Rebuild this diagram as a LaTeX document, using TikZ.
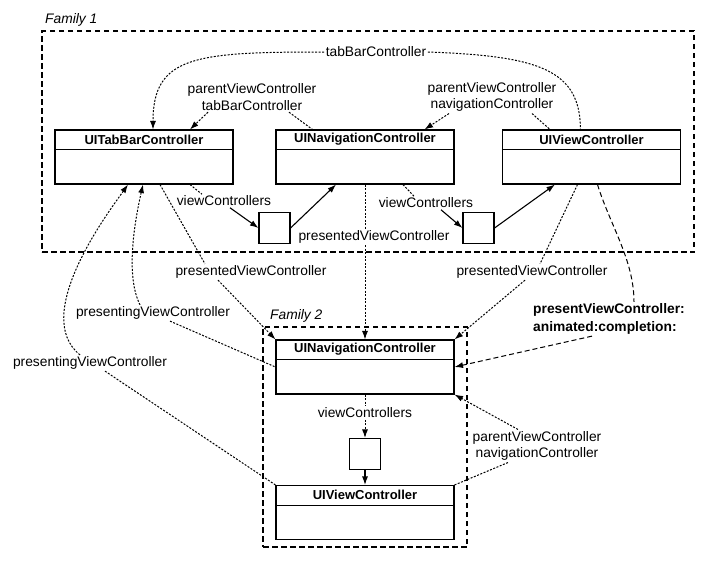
\documentclass[tikz,border=0pt]{standalone}
\usepackage{fontspec}
\setmainfont{Liberation Sans}
\usetikzlibrary{arrows.meta}

\tikzset{
  cbox/.style={draw, line width=1.1pt, minimum width=178pt, minimum height=54pt, inner sep=0pt},
  ctitle/.style={anchor=north, minimum height=20pt, inner sep=0pt, font=\fontsize{13}{15}\selectfont\bfseries},
  sq/.style={draw, line width=1.1pt, minimum size=31pt, inner sep=0pt},
  lbl/.style={inner sep=1.5pt, align=center, font=\fontsize{13.8}{16.8}\selectfont},
  famlbl/.style={inner sep=0pt, anchor=west, font=\fontsize{13.8}{16}\selectfont\itshape},
  fam/.style={draw, line width=1.2pt, dash pattern=on 5.5pt off 3.5pt},
  ptr/.style={line width=1pt, dash pattern=on 2pt off 1.5pt},
  lptr/.style={line width=1pt, dash pattern=on 5pt off 3pt},
  conn/.style={line width=1.1pt},
  tip/.style={-{Latex[length=8.5pt,width=6pt]}}
}

\begin{document}
\begin{tikzpicture}[x=1pt, y=-1pt]
  \useasboundingbox (0,0) rectangle (707,560);
  \node[fam, minimum width=652pt, minimum height=221pt] (fam1) at (368,141.5) {};
  \node[famlbl] (fam1L) at (45,20) {Family 1};
  \node[fam, minimum width=204pt, minimum height=220pt] (fam2) at (365,437) {};
  \node[famlbl] (fam2L) at (270,316) {Family 2};

  \node[cbox] (tab) at (144,157) {};
  \node[ctitle] (tabT) at (tab.north) {UITabBarController};
  \draw[conn] (tab.west |- tabT.south) -- (tab.east |- tabT.south);
  \node[cbox] (nav) at (365,157) {};
  \node[ctitle] (navT) at (nav.north) {UINavigationController};
  \draw[conn] (nav.west |- navT.south) -- (nav.east |- navT.south);
  \node[cbox] (vc) at (591.5,157) {};
  \node[ctitle] (vcT) at (vc.north) {UIViewController};
  \draw[conn] (vc.west |- vcT.south) -- (vc.east |- vcT.south);
  \node[cbox] (nav2) at (365,367) {};
  \node[ctitle] (nav2T) at (nav2.north) {UINavigationController};
  \draw[conn] (nav2.west |- nav2T.south) -- (nav2.east |- nav2T.south);
  \node[cbox] (vc2) at (365,512.5) {};
  \node[ctitle] (vc2T) at (vc2.north) {UIViewController};
  \draw[conn] (vc2.west |- vc2T.south) -- (vc2.east |- vc2T.south);

  \node[sq] (sq1) at (274.5,228) {};
  \node[sq] (sq2) at (478.5,228) {};
  \node[sq] (sq3) at (365,454) {};

  \node[lbl] (tbc) at (376,52) {tabBarController};
  \node[lbl] (ptab) at (252,97) {parentViewController\\tabBarController};
  \node[lbl] (pnav) at (492,97) {parentViewController\\navigationController};
  \node[lbl] (vcs1) at (224,201) {viewControllers};
  \node[lbl] (vcs2) at (426,203) {viewControllers};
  \node[lbl] (pres1) at (374,237) {presentedViewController};
  \node[lbl] (pres2) at (251,272) {presentedViewController};
  \node[lbl] (pres3) at (532,272) {presentedViewController};
  \node[lbl, align=left, font=\fontsize{13.8}{18}\selectfont\bfseries] (pvc) at (609,319) {presentViewController:\\animated:completion:};
  \node[lbl] (ping1) at (153,313) {presentingViewController};
  \node[lbl] (ping2) at (90,363) {presentingViewController};
  \node[lbl] (vcs3) at (365,413) {viewControllers};
  \node[lbl] (pnav2) at (537,446) {parentViewController\\navigationController};

  \draw[ptr, tip] (tbc.west) .. controls (195,52) and (153,56) .. ([xshift=9pt]tab.north);
  \draw[ptr] (tbc.east) .. controls (540,56) and (580,70) .. ([xshift=-11pt]vc.north);
  \draw[ptr, tip] ([xshift=-44pt]ptab.south) to ([xshift=46pt]tab.north);
  \draw[ptr] ([xshift=37pt]ptab.south) to ([xshift=37pt]nav.north west);
  \draw[ptr, tip] ([xshift=-43pt]pnav.south) to ([xshift=-30pt]nav.north east);
  \draw[ptr] ([xshift=40pt]pnav.south) to ([xshift=48pt]vc.north west);

  \draw[ptr] ([xshift=46pt]tab.south) to ([xshift=-22pt]vcs1.north);
  \draw[conn, tip] ([xshift=6pt]vcs1.south) to (sq1.west);
  \draw[conn, tip] (sq1.east) to ([xshift=-29pt]nav.south);
  \draw[ptr] ([xshift=38pt]nav.south) to ([xshift=-12pt]vcs2.north);
  \draw[conn, tip] ([xshift=15pt]vcs2.south) to (sq2.west);
  \draw[conn, tip] (sq2.east) to ([xshift=53pt]vc.south west);

  \draw[ptr] (nav.south) to (nav.south |- pres1.north);
  \draw[ptr, tip] (nav.south |- pres1.south) to (nav2.north);
  \draw[ptr] ([xshift=16pt]tab.south) to ([xshift=-46pt]pres2.north);
  \draw[ptr, tip] ([xshift=-33pt]pres2.south) to (nav2.north west);
  \draw[ptr] ([xshift=-14pt]vc.south) to ([xshift=8pt]pres3.north);
  \draw[ptr, tip] ([xshift=-7pt]pres3.south) to (nav2.north east);
  \draw[lptr] ([xshift=6pt]vc.south) .. controls (610,225) and (634,260) .. ([xshift=25pt]pvc.north);
  \draw[lptr, tip] ([xshift=-17pt]pvc.south) to (nav2.east);

  \draw[ptr, tip] ([xshift=-13pt]ping1.north) .. controls (125,275) and (135,220) .. ([xshift=-1pt]tab.south);
  \draw[ptr] ([xshift=17pt]ping1.south) to (nav2.west);
  \draw[ptr, tip] ([xshift=-10pt]ping2.north) .. controls (30,315) and (110,210) .. ([xshift=-16pt]tab.south);
  \draw[ptr] ([xshift=15pt]ping2.south) to (vc2.north west);

  \draw[ptr] (nav2.south) to (vcs3.north);
  \draw[ptr, tip] (vcs3.south) to (sq3.north);
  \draw[conn, tip] (sq3.south) to (vc2.north);
  \draw[ptr, tip] ([xshift=-19pt]pnav2.north) to (nav2.south east);
  \draw[ptr] ([xshift=-29pt]pnav2.south) to (vc2.north east);
\end{tikzpicture}
\end{document}
